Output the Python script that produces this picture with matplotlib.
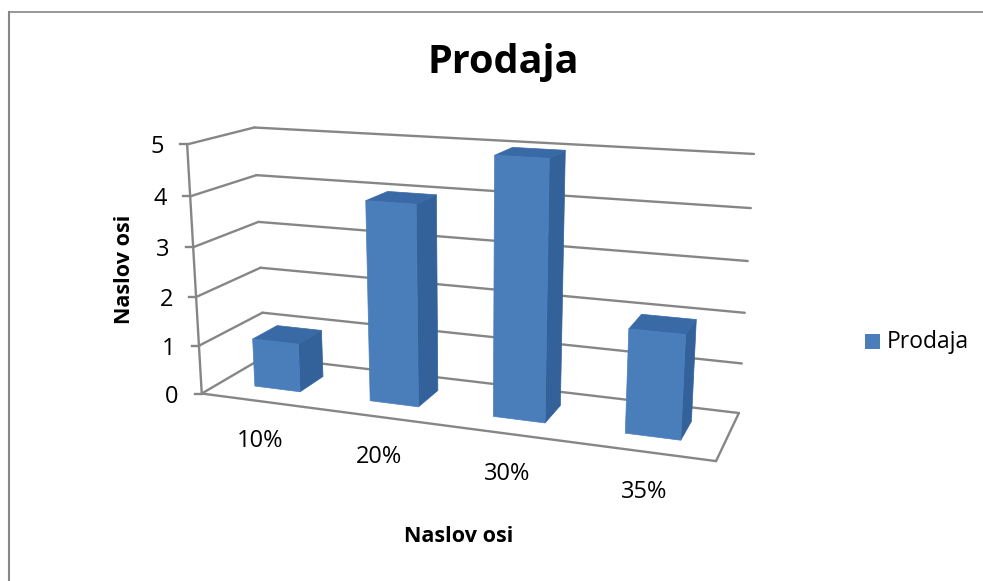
import numpy as np
import matplotlib
matplotlib.use('Agg')
import matplotlib.pyplot as plt
from matplotlib.patches import Polygon, Rectangle

# Chart data
categories = ['10%', '20%', '30%', '35%']
values = [1, 4, 5, 2]
value_ticks = [0, 1, 2, 3, 4, 5]
series_name = 'Prodaja'
title = 'Prodaja'
x_title = 'Naslov osi'
y_title = 'Naslov osi'

W, H = 983, 581
GRID = '#868686'
FRONT = '#4a7ebb'
SIDE = '#33619a'
TOP = '#3a6aa6'
FONT = 'Open Sans'

# Where the plot box sits on the page, one pixel position per value tick
front_left = [(202, 394), (199, 345.7), (196, 296.7), (193, 247), (190, 196.7), (187.3, 144.3)]
back_left = [(264, 356), (262.3, 312.7), (260.7, 268.3), (258.7, 222.3), (256.7, 175.7), (254, 126.7)]
back_right = [(739, 412.7), (742, 363.7), (745, 313), (747.3, 261.3), (750.7, 208), (754, 153.7)]
front_right_floor = (716, 461)


# Fit a camera matrix that sends (category, value, depth) to the page
def fit_camera():
    n_cat = len(categories)
    world, page = [], []
    for v, p in zip(value_ticks, front_left):
        world.append((0, v, 0))
        page.append(p)
    for v, p in zip(value_ticks, back_left):
        world.append((0, v, 1))
        page.append(p)
    for v, p in zip(value_ticks, back_right):
        world.append((n_cat, v, 1))
        page.append(p)
    world.append((n_cat, 0, 0))
    page.append(front_right_floor)

    rows, rhs = [], []
    for (x, y, z), (u, v) in zip(world, page):
        rows.append([x, y, z, 1, 0, 0, 0, 0, -u * x, -u * y, -u * z])
        rows.append([0, 0, 0, 0, x, y, z, 1, -v * x, -v * y, -v * z])
        rhs += [u, v]
    sol = np.linalg.lstsq(np.array(rows, float), np.array(rhs, float), rcond=None)[0]
    return np.append(sol, 1).reshape(3, 4)


camera = fit_camera()


def project(x, y, z):
    u, v, w = camera @ np.array([x, y, z, 1.0])
    return u / w, v / w


def draw_line(ax, a, b, lw=1.7):
    pa, pb = project(*a), project(*b)
    ax.plot([pa[0], pb[0]], [pa[1], pb[1]], color=GRID, lw=lw, solid_capstyle='round', zorder=2)


fig = plt.figure(figsize=(W / 100, H / 100), dpi=100)
ax = fig.add_axes([0, 0, 1, 1])
ax.set_xlim(0, W)
ax.set_ylim(H, 0)
ax.axis('off')

# outer chart frame, only top and left show up
ax.plot([9, 9], [H, 11.5], color=GRID, lw=1.5, zorder=1)
ax.plot([9, W], [11.5, 11.5], color=GRID, lw=1.2, zorder=1)

n = len(categories)
for v in value_ticks:
    draw_line(ax, (0, v, 0), (0, v, 1))
    draw_line(ax, (0, v, 1), (n, v, 1))
    px, py = project(0, v, 0)
    ax.plot([px - 7, px], [py, py], color=GRID, lw=1.7, zorder=2)
    ax.text(px - 30, py + 3, str(v), fontsize=17, family=FONT, ha='center', va='center', color='black')

draw_line(ax, (0, 0, 0), (0, max(value_ticks), 0))
draw_line(ax, (0, 0, 0), (n, 0, 0))
draw_line(ax, (n, 0, 0), (n, 0, 1))

# bars, left to right
bar_w = 0.4
z0, z1 = 0.3, 0.7
for i, val in enumerate(values):
    x0 = i + (1 - bar_w) / 2
    x1 = x0 + bar_w
    front = [project(x0, 0, z0), project(x1, 0, z0), project(x1, val, z0), project(x0, val, z0)]
    side = [project(x1, 0, z0), project(x1, 0, z1), project(x1, val, z1), project(x1, val, z0)]
    top = [project(x0, val, z0), project(x1, val, z0), project(x1, val, z1), project(x0, val, z1)]
    ax.add_patch(Polygon(side, closed=True, facecolor=SIDE, edgecolor=SIDE, lw=0.5, zorder=3))
    ax.add_patch(Polygon(top, closed=True, facecolor=TOP, edgecolor=TOP, lw=0.5, zorder=3))
    ax.add_patch(Polygon(front, closed=True, facecolor=FRONT, edgecolor=FRONT, lw=0.5, zorder=4))

    # category label below the front floor edge
    lx, ly = project(i + 0.5, 0, 0)
    ax.text(lx + 1, ly + 40, categories[i], fontsize=17, family=FONT, ha='center', va='center', color='black')

ax.text(503, 63, title, fontsize=28.5, family=FONT, fontweight='bold', ha='center', va='center')
ax.text(459, 536, x_title, fontsize=15.5, family=FONT, fontweight='bold', ha='center', va='center')
ax.text(125, 269, y_title, fontsize=15.5, family=FONT, fontweight='bold', rotation=90, ha='center', va='center')

# legend
ax.add_patch(Rectangle((865, 334), 15, 15, facecolor=FRONT, edgecolor='none'))
ax.text(887, 342.5, series_name, fontsize=16.5, family=FONT, ha='left', va='center')

fig.savefig('out.png', dpi=100)
